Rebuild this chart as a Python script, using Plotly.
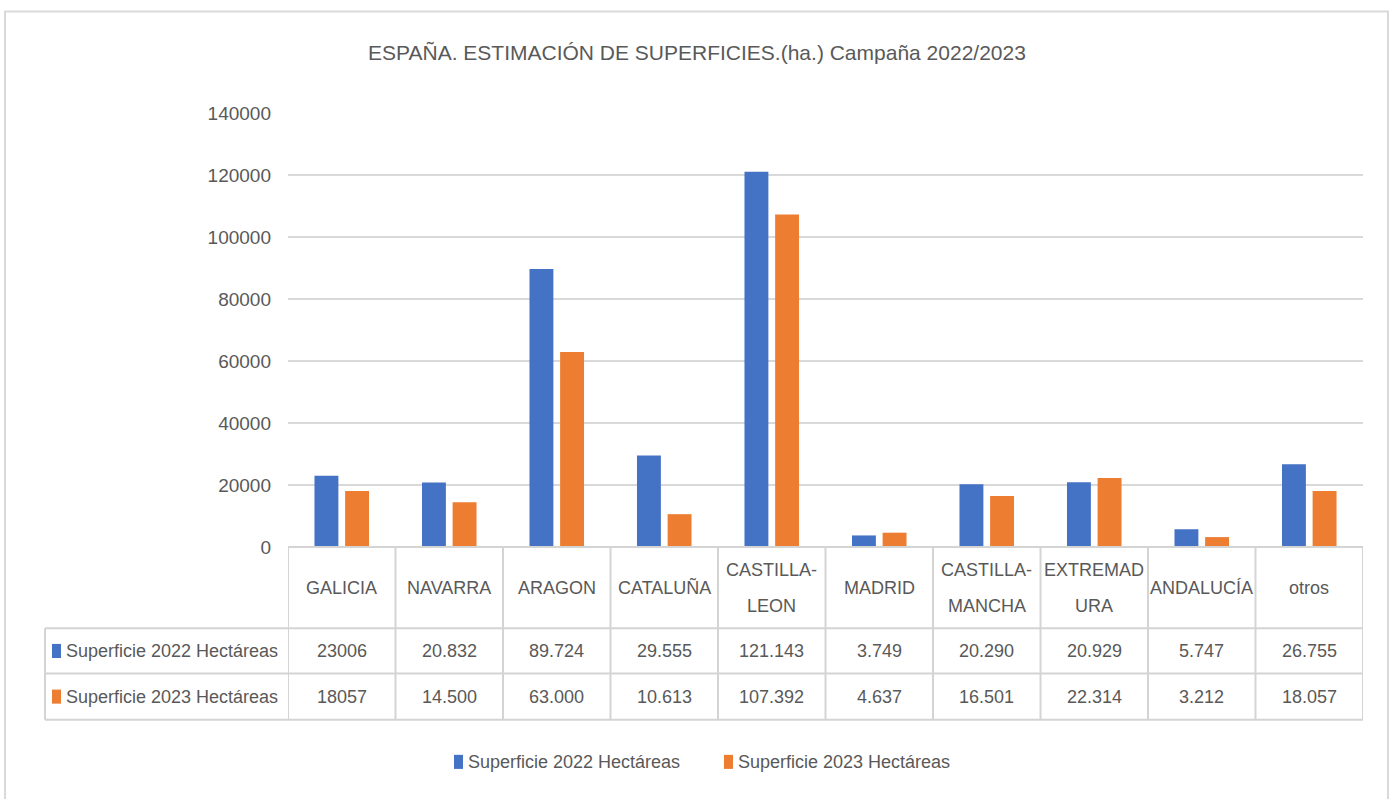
import plotly.graph_objects as go

W, H = 1394, 799

categories = ["GALICIA", "NAVARRA", "ARAGON", "CATALUÑA", "CASTILLA-LEON",
              "MADRID", "CASTILLA-MANCHA", "EXTREMADURA", "ANDALUCÍA", "otros"]
category_labels = [["GALICIA"], ["NAVARRA"], ["ARAGON"], ["CATALUÑA"], ["CASTILLA-", "LEON"],
                   ["MADRID"], ["CASTILLA-", "MANCHA"], ["EXTREMAD", "URA"], ["ANDALUCÍA"], ["otros"]]
series_names = ["Superficie 2022 Hectáreas", "Superficie 2023 Hectáreas"]
values_2022 = [23006, 20832, 89724, 29555, 121143, 3749, 20290, 20929, 5747, 26755]
values_2023 = [18057, 14500, 63000, 10613, 107392, 4637, 16501, 22314, 3212, 18057]
table_2022 = ["23006", "20.832", "89.724", "29.555", "121.143", "3.749", "20.290", "20.929", "5.747", "26.755"]
table_2023 = ["18057", "14.500", "63.000", "10.613", "107.392", "4.637", "16.501", "22.314", "3.212", "18.057"]
y_ticks = [0, 20000, 40000, 60000, 80000, 100000, 120000, 140000]
title_text = "ESPAÑA. ESTIMACIÓN DE SUPERFICIES.(ha.) Campaña 2022/2023"

BLUE = "#4472C4"
ORANGE = "#ED7D31"
TXT = "#595959"
GRID = "#D9D9D9"
FONT = "Liberation Sans, Arial"
FS = 18

# the photographed page is mapped vertically as: shown_y = OFF + SC * figure_y
OFF, SC = 11.0, 0.970


def px(x):
    return x / W


def py(y):
    ys = (y - OFF) / SC
    return 1 - ys / H


# target pixel layout
X0, X1 = 288, 1363
Y_TOP, Y_ZERO = 114, 546
ROW1, ROW2, ROW3 = 627, 672, 718
TBL_LEFT = 45

fig = go.Figure()
fig.add_trace(go.Bar(x=categories, y=values_2022, name=series_names[0],
                     marker=dict(color=BLUE, line=dict(width=0))))
fig.add_trace(go.Bar(x=categories, y=values_2023, name=series_names[1],
                     marker=dict(color=ORANGE, line=dict(width=0))))

shapes = []
annotations = []
line_style = dict(color="#D4D4D4", width=2)
# outer chart border (bottom edge falls below the visible page, as in the reference)
shapes.append(dict(type="rect", xref="paper", yref="paper",
                   x0=px(5), x1=px(1388), y0=-0.05, y1=1 - 1.5 / H,
                   line=dict(color=GRID, width=2), fillcolor="rgba(0,0,0,0)"))
# data table grid
shapes.append(dict(type="line", xref="paper", yref="paper", x0=px(X0), x1=px(X1),
                   y0=py(Y_ZERO), y1=py(Y_ZERO), line=line_style))
for yy in (ROW1, ROW2, ROW3):
    shapes.append(dict(type="line", xref="paper", yref="paper", x0=px(TBL_LEFT), x1=px(X1),
                       y0=py(yy), y1=py(yy), line=line_style))
n = len(categories)
for i in range(n + 1):
    shapes.append(dict(type="line", xref="x", yref="paper", x0=i - 0.5, x1=i - 0.5,
                       y0=py(Y_ZERO), y1=py(ROW3), line=line_style))
shapes.append(dict(type="line", xref="paper", yref="paper", x0=px(TBL_LEFT), x1=px(TBL_LEFT),
                   y0=py(ROW1), y1=py(ROW3), line=line_style))


def key(x_left, yc, col, text):
    shapes.append(dict(type="rect", xref="paper", yref="paper",
                       x0=px(x_left), x1=px(x_left + 9), y0=py(yc + 7), y1=py(yc - 7),
                       line=dict(width=0), fillcolor=col))
    annotations.append(dict(x=px(x_left + 12), xref="paper", y=py(yc), yref="paper", text=text,
                            showarrow=False, xanchor="left", yanchor="middle",
                            font=dict(family=FONT, size=FS, color=TXT)))


cat_center = (Y_ZERO + ROW1) / 2
for cat, lines in zip(categories, category_labels):
    if len(lines) == 1:
        offsets = [0]
    else:
        offsets = [-18, 18]
    for ln, off in zip(lines, offsets):
        annotations.append(dict(x=cat, xref="x", y=py(cat_center + off), yref="paper",
                                text=ln, showarrow=False, yanchor="middle",
                                font=dict(family=FONT, size=FS, color=TXT)))
for cat, t1, t2 in zip(categories, table_2022, table_2023):
    annotations.append(dict(x=cat, xref="x", y=py((ROW1 + ROW2) / 2), yref="paper",
                            text=t1, showarrow=False, yanchor="middle",
                            font=dict(family=FONT, size=FS, color=TXT)))
    annotations.append(dict(x=cat, xref="x", y=py((ROW2 + ROW3) / 2), yref="paper",
                            text=t2, showarrow=False, yanchor="middle",
                            font=dict(family=FONT, size=FS, color=TXT)))

key(52, (ROW1 + ROW2) / 2, BLUE, series_names[0])
key(52, (ROW2 + ROW3) / 2, ORANGE, series_names[1])
key(454, 760, BLUE, series_names[0])
key(724, 760, ORANGE, series_names[1])

annotations.append(dict(x=px(697), xref="paper", y=py(53), yref="paper", text=title_text,
                        showarrow=False, xanchor="center", yanchor="middle",
                        font=dict(family=FONT, size=21, color=TXT)))

fig.update_layout(
    width=W, height=H,
    margin=dict(l=0, r=0, t=0, b=0),
    paper_bgcolor="white", plot_bgcolor="white",
    barmode="group", bargap=0.43, bargroupgap=0.22,
    font=dict(family=FONT, size=FS, color=TXT),
    xaxis=dict(domain=[px(X0), px(X1)], range=[-0.5, n - 0.5], showticklabels=False,
               showgrid=False, zeroline=False, showline=False, fixedrange=True),
    yaxis=dict(domain=[py(Y_ZERO), py(Y_TOP)], range=[0, 140000], tickvals=y_ticks,
               ticktext=[str(v) for v in y_ticks], showgrid=True, gridcolor=GRID,
               gridwidth=2, zeroline=False, showline=False, ticklabelstandoff=16,
               tickfont=dict(family=FONT, size=19, color=TXT)),
    showlegend=False,
    shapes=shapes, annotations=annotations,
)

post = ("var s=document.documentElement.style;s.margin='0';s.padding='0';s.overflow='hidden';"
        "var b=document.body.style;b.margin='0';b.padding='0';b.overflow='hidden';")
fig.write_html("out.html", post_script=post, config={"displayModeBar": False})
